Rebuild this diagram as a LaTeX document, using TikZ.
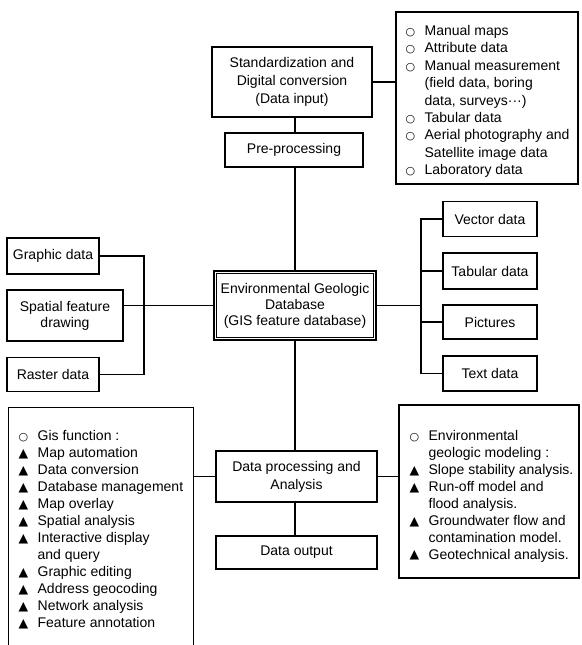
\documentclass[tikz,border=0pt]{standalone}
\usepackage{fontspec}
\setmainfont{Liberation Sans}
\newfontfamily\symfont{DejaVu Sans}
\newcommand{\opb}{\makebox[19pt][l]{\symfont\fontsize{11}{11}\selectfont ○}}
\newcommand{\trb}{\makebox[19pt][l]{\raisebox{0.3pt}{\symfont\fontsize{12.5}{12.5}\selectfont ▲}}}
\newcommand{\ind}{\hspace*{19pt}}
\begin{document}
\begin{tikzpicture}[x=1pt,y=-1pt,line width=1.3pt,
  box/.style={draw, line width=1.4pt, inner sep=0pt, align=center,
    font=\fontsize{14}{18}\selectfont},
  tight/.style={font=\fontsize{14}{16}\selectfont},
  lst/.style={anchor=north west, inner sep=0pt, align=left}]
\useasboundingbox (0,0) rectangle (581,645);

% top part
\node[box, minimum width=160pt, minimum height=70pt] (std) at (292,82)
  {Standardization and\\Digital conversion\\(Data input)};
\node[box, minimum width=182pt, minimum height=172pt] (input) at (487,98) {};
\node[lst, font=\fontsize{14}{17.4}\selectfont] (inputtxt) at (405,24.8)
  {\opb Manual maps\\ \opb Attribute data\\ \opb Manual measurement\\
   \ind(field data, boring\\ \ind data, surveys···)\\ \opb Tabular data\\
   \opb Aerial photography and\\ \ind Satellite image data\\ \opb Laboratory data};
\node[box, minimum width=138pt, minimum height=34pt] (pre) at (294,150) {Pre-processing};

% central database (double frame)
\node[box, tight, line width=1.6pt, minimum width=162pt, minimum height=69pt] (db) at (295,305.5)
  {Environmental Geologic\\Database\\(GIS feature database)};
\draw[line width=0.8pt] ([xshift=3pt,yshift=-3pt]db.north west) rectangle ([xshift=-3pt,yshift=3pt]db.south east);

% left group
\node[box, minimum width=92pt, minimum height=36pt] (graphic) at (53,256) {Graphic data};
\node[box, tight, minimum width=116pt, minimum height=51pt] (spatial) at (65,315.5)
  {Spatial feature\\drawing};
\node[box, minimum width=92pt, minimum height=34pt] (raster) at (53,374.5) {Raster data};
\coordinate (lb) at (144,300);

% right group
\node[box, minimum width=94pt, minimum height=35pt] (vector) at (490,219) {Vector data};
\node[box, minimum width=94pt, minimum height=36pt] (tabular) at (490,271) {Tabular data};
\node[box, minimum width=94pt, minimum height=34pt] (pictures) at (490,322) {Pictures};
\node[box, minimum width=94pt, minimum height=35pt] (textd) at (490,373.5) {Text data};
\coordinate (rb) at (421,300);

% bottom part
\node[inner sep=0pt, minimum width=184pt, minimum height=237pt] (gis) at (101,526.5) {};
\node[lst, font=\fontsize{14}{17}\selectfont] (gistxt) at (18,429.8)
  {\opb Gis function :\\ \trb Map automation\\ \trb Data conversion\\
   \trb Database management\\ \trb Map overlay\\ \trb Spatial analysis\\
   \trb Interactive display\\ \ind and query\\ \trb Graphic editing\\
   \trb Address geocoding\\ \trb Network analysis\\ \trb Feature annotation};
\node[box, minimum width=161pt, minimum height=51pt] (dp) at (296.5,476.5)
  {Data processing and\\Analysis};
\node[box, minimum width=161pt, minimum height=33pt] (out) at (296.5,552.5) {Data output};
\node[box, minimum width=180pt, minimum height=173pt] (model) at (489,491.5) {};
\node[lst, font=\fontsize{14}{16.9}\selectfont] (modeltxt) at (409,430)
  {\opb Environmental\\ \ind geologic modeling :\\ \trb Slope stability analysis.\\
   \trb Run-off model and\\ \ind flood analysis.\\ \trb Groundwater flow and\\
   \ind contamination model.\\ \trb Geotechnical analysis.};

% open box of the GIS function list
\draw[line width=1.4pt] (gis.south west) -- (gis.north west) -- (gis.north east) -- (gis.south east);

% connectors
\draw (std.east) -- (std.east -| input.west);
\draw (std.south -| db.north) -- (pre.north -| db.north);
\draw (pre.south -| db.north) -- (db.north);
\draw (db.south) -- (dp.north -| db.south);
\draw (dp.south -| db.south) -- (out.north -| db.south);

\draw (graphic.east) -- (graphic.east -| lb) -- (raster.east -| lb) -- (raster.east);
\draw (db.west) -- (db.west -| spatial.east);

\draw (vector.west) -- (vector.west -| rb) -- (textd.west -| rb) -- (textd.west);
\draw (tabular.west) -- (tabular.west -| rb);
\draw (pictures.west) -- (pictures.west -| rb);
\draw (db.east) -- (db.east -| rb);

\draw (dp.west) -- (dp.west -| gis.east);
\draw (dp.east) -- (dp.east -| model.west);
\end{tikzpicture}
\end{document}
